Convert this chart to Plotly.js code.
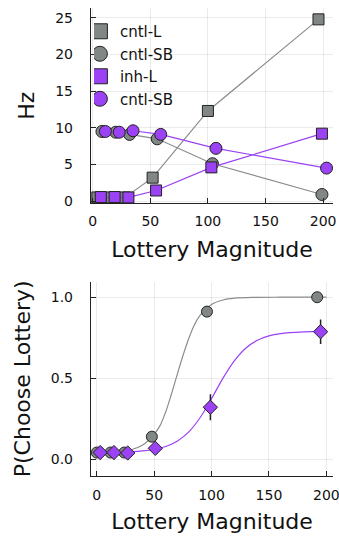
<!DOCTYPE html>
<html>
<head>
<meta charset="utf-8">
<script src="https://cdn.plot.ly/plotly-3.0.1.min.js"></script>
<style>
  html, body { margin: 0; padding: 0; background: #ffffff; }
  #chart { width: 339px; height: 536px; }
</style>
</head>
<body>
<div id="chart"></div>
<script>
// ---- Firing rates vs lottery magnitude (top panel) ----
const cntlL_x  = [4, 16, 28, 52, 100, 196];
const cntlL_y  = [0.5, 0.5, 0.5, 3.2, 12.3, 24.8];
const cntlSB_x = [8, 20, 32, 56, 104, 199];
const cntlSB_y = [9.5, 9.4, 9.1, 8.5, 5.1, 0.9];
const inhL_x   = [7, 19, 31, 55, 103, 199];
const inhL_y   = [0.55, 0.55, 0.5, 1.45, 4.6, 9.2];
const inhSB_x  = [11, 23, 35, 59, 107, 203];
const inhSB_y  = [9.5, 9.4, 9.6, 9.1, 7.2, 4.5];

// ---- Choice probability (bottom panel) ----
const choiceCntl_x = [0, 12, 24, 48, 96, 192];
const choiceCntl_y = [0.04, 0.04, 0.04, 0.138, 0.911, 1.0];
const choiceInh_x  = [3, 15, 27, 51, 99, 195];
const choiceInh_y  = [0.04, 0.04, 0.037, 0.066, 0.32, 0.787];
const choiceInh_err = [0.015, 0.015, 0.015, 0.02, 0.08, 0.076];

// fitted psychometric curves
const fitCntl_x = [0, 10, 20, 30, 40, 50, 55, 60, 65, 70, 75, 80, 85, 90, 100, 110, 120, 140, 160, 200];
const fitCntl_y = [0.041, 0.042, 0.046, 0.057, 0.086, 0.154, 0.205, 0.29, 0.40, 0.52, 0.637, 0.742, 0.828, 0.888, 0.955, 0.983, 0.994, 0.999, 1.0, 1.0];
const fitInh_x  = [0, 20, 40, 50, 60, 70, 80, 90, 100, 110, 120, 130, 140, 150, 160, 180, 200];
const fitInh_y  = [0.041, 0.042, 0.050, 0.059, 0.077, 0.110, 0.166, 0.255, 0.373, 0.500, 0.608, 0.686, 0.734, 0.761, 0.775, 0.786, 0.789];

const magTicks = [0, 50, 100, 150, 200];
const hzTicks = [0, 5, 10, 15, 20, 25];
const probTicks = [0, 0.5, 1.0];

const GRAY = '#818784';
const GRAY_LINE = '#8c8c8c';
const PURPLE = '#9b42f5';
const OUTLINE = { color: '#222222', width: 1 };

const traces = [
  // top panel lines + markers
  { x: cntlL_x, y: cntlL_y, mode: 'lines+markers', showlegend: false,
    line: { color: GRAY_LINE, width: 1.2 },
    marker: { symbol: 'square', size: 11, color: GRAY, line: OUTLINE }, xaxis: 'x', yaxis: 'y' },
  { x: cntlSB_x, y: cntlSB_y, mode: 'lines+markers', showlegend: false,
    line: { color: GRAY_LINE, width: 1.2 },
    marker: { symbol: 'circle', size: 12, color: GRAY, line: OUTLINE }, xaxis: 'x', yaxis: 'y' },
  { x: inhL_x, y: inhL_y, mode: 'lines+markers', showlegend: false,
    line: { color: PURPLE, width: 1.2 },
    marker: { symbol: 'square', size: 11, color: PURPLE, line: OUTLINE }, xaxis: 'x', yaxis: 'y' },
  { x: inhSB_x, y: inhSB_y, mode: 'lines+markers', showlegend: false,
    line: { color: PURPLE, width: 1.2 },
    marker: { symbol: 'circle', size: 12, color: PURPLE, line: OUTLINE }, xaxis: 'x', yaxis: 'y' },

  // legend entries
  { x: [null], y: [null], mode: 'markers', name: 'cntl-L',
    marker: { symbol: 'square', size: 15, color: GRAY, line: OUTLINE }, xaxis: 'x', yaxis: 'y' },
  { x: [null], y: [null], mode: 'markers', name: 'cntl-SB',
    marker: { symbol: 'circle', size: 15, color: GRAY, line: OUTLINE }, xaxis: 'x', yaxis: 'y' },
  { x: [null], y: [null], mode: 'markers', name: 'inh-L',
    marker: { symbol: 'square', size: 15, color: PURPLE, line: OUTLINE }, xaxis: 'x', yaxis: 'y' },
  { x: [null], y: [null], mode: 'markers', name: 'cntl-SB',
    marker: { symbol: 'circle', size: 15, color: PURPLE, line: OUTLINE }, xaxis: 'x', yaxis: 'y' },

  // bottom panel fits
  { x: fitCntl_x, y: fitCntl_y, mode: 'lines', showlegend: false,
    line: { color: GRAY_LINE, width: 1.2, shape: 'spline', smoothing: 1 }, xaxis: 'x2', yaxis: 'y2' },
  { x: fitInh_x, y: fitInh_y, mode: 'lines', showlegend: false,
    line: { color: PURPLE, width: 1.2, shape: 'spline', smoothing: 1 }, xaxis: 'x2', yaxis: 'y2' },

  // bottom panel data
  { x: choiceCntl_x, y: choiceCntl_y, mode: 'markers', showlegend: false,
    marker: { symbol: 'circle', size: 11, color: GRAY, line: OUTLINE }, xaxis: 'x2', yaxis: 'y2' },
  { x: choiceInh_x, y: choiceInh_y, mode: 'markers', showlegend: false,
    error_y: { type: 'data', array: choiceInh_err, visible: true, color: '#222222', thickness: 1.5, width: 0 },
    marker: { symbol: 'diamond', size: 11, color: PURPLE, line: OUTLINE }, xaxis: 'x2', yaxis: 'y2' }
];

const FONT = 'DejaVu Sans, sans-serif';
const axisCommon = {
  showline: true, linecolor: '#222222', linewidth: 1.2,
  ticks: 'inside', ticklen: 5, tickcolor: '#222222', tickwidth: 1,
  showgrid: true, gridcolor: 'rgba(0,0,0,0.1)', gridwidth: 0.8,
  zeroline: false, mirror: false, ticklabeloverflow: 'allow',
  tickfont: { family: FONT, size: 14, color: '#111111' }
};

const layout = {
  width: 339, height: 536,
  margin: { l: 91, r: 6, t: 8, b: 60 },
  paper_bgcolor: '#ffffff', plot_bgcolor: '#ffffff',
  font: { family: FONT, color: '#111111' },
  showlegend: true,
  legend: {
    x: 0.012, y: 0.985, xanchor: 'left', yanchor: 'top',
    bgcolor: 'rgba(255,255,255,0)', borderwidth: 0,
    font: { family: FONT, size: 15, color: '#111111' },
    itemwidth: 30, tracegroupgap: 0, indentation: -14
  },
  xaxis: Object.assign({}, axisCommon, {
    domain: [0, 1], anchor: 'y', range: [-1.5, 208.6],
    tickvals: magTicks, ticklabelstandoff: 5,
    title: { text: 'Lottery Magnitude', font: { family: FONT, size: 22 }, standoff: 13 }
  }),
  yaxis: Object.assign({}, axisCommon, {
    domain: [0.5827, 1], anchor: 'x', range: [-0.3, 26.35],
    tickvals: hzTicks, ticklabelstandoff: 14,
    title: { text: 'Hz', font: { family: FONT, size: 22 }, standoff: 14 }
  }),
  xaxis2: Object.assign({}, axisCommon, {
    domain: [0, 1], anchor: 'y2', range: [-5, 205.8],
    tickvals: magTicks, ticklabelstandoff: 6,
    title: { text: 'Lottery Magnitude', font: { family: FONT, size: 22 }, standoff: 11 }
  }),
  yaxis2: Object.assign({}, axisCommon, {
    domain: [0, 0.4152], anchor: 'x2', range: [-0.105, 1.096],
    tickvals: probTicks, ticktext: ['0.0', '0.5', '1.0'], ticklabelstandoff: 14,
    title: { text: 'P(Choose Lottery)', font: { family: FONT, size: 22 }, standoff: 14 }
  })
};

Plotly.newPlot('chart', traces, layout, { displayModeBar: false, staticPlot: true });
</script>
</body>
</html>
